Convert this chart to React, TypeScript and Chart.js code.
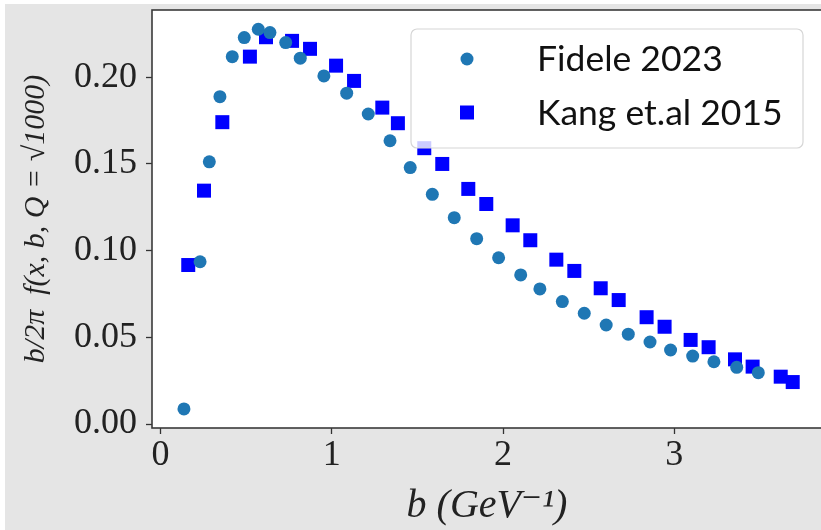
import React, { useEffect, useRef } from "react";
import { Chart, registerables } from "chart.js";

Chart.register(...registerables);

// Fidele 2023 (circles)
const fideleB = [0.137, 0.231, 0.285, 0.347, 0.419, 0.489, 0.571, 0.639, 0.731, 0.816, 0.954, 1.087, 1.213, 1.340, 1.458, 1.587, 1.715, 1.846, 1.974, 2.103, 2.215, 2.346, 2.474, 2.602, 2.731, 2.858, 2.978, 3.107, 3.231, 3.364, 3.490];
const fideleF = [0.0087, 0.0936, 0.1512, 0.1888, 0.2119, 0.2229, 0.2277, 0.2258, 0.2200, 0.2110, 0.2008, 0.1908, 0.1788, 0.1634, 0.1479, 0.1325, 0.1190, 0.1069, 0.0959, 0.0860, 0.0779, 0.0706, 0.0639, 0.0571, 0.0518, 0.0473, 0.0427, 0.0392, 0.0359, 0.0327, 0.0296];

// Kang et.al 2015 (squares)
const kangB = [0.162, 0.254, 0.361, 0.522, 0.616, 0.768, 0.873, 1.025, 1.130, 1.295, 1.386, 1.540, 1.645, 1.797, 1.902, 2.056, 2.159, 2.311, 2.416, 2.570, 2.675, 2.838, 2.943, 3.095, 3.200, 3.354, 3.457, 3.621, 3.691];
const kangF = [0.0917, 0.1346, 0.1741, 0.2119, 0.2231, 0.2210, 0.2164, 0.2067, 0.1979, 0.1825, 0.1735, 0.1591, 0.1500, 0.1356, 0.1269, 0.1146, 0.1060, 0.0948, 0.0883, 0.0783, 0.0715, 0.0616, 0.0561, 0.0485, 0.0443, 0.0373, 0.0331, 0.0273, 0.0242];

const seriesLabels = ["Fidele 2023", "Kang et.al 2015"];
const xTicks = [0, 1, 2, 3];
const yTicks = [0, 0.05, 0.1, 0.15, 0.2];
const xTitle = "b (GeV\u207B\u00B9)";
const yTitle = "b/2\u03C0  f(x, b, Q = \u221A1000)";

const SERIF = "'Liberation Serif', 'DejaVu Serif', serif";
const SANS = "Lato, 'Open Sans', 'DejaVu Sans', sans-serif";

const bgPlugin = {
  id: "bgPlugin",
  beforeDraw(chart: any) {
    const { ctx, width, height, chartArea } = chart;
    ctx.save();
    ctx.fillStyle = "#e5e5e5";
    ctx.fillRect(0, 0, width, height);
    ctx.fillStyle = "#ffffff";
    ctx.fillRect(chartArea.left, chartArea.top, chartArea.right - chartArea.left, chartArea.bottom - chartArea.top);
    ctx.restore();
  },
};

const framePlugin = {
  id: "framePlugin",
  afterDatasetsDraw(chart: any) {
    const { ctx, chartArea } = chart;
    ctx.save();
    ctx.strokeStyle = "#3a3a3a";
    ctx.lineWidth = 1.6;
    ctx.strokeRect(chartArea.left, chartArea.top, chartArea.right - chartArea.left, chartArea.bottom - chartArea.top);
    ctx.restore();

    // legend
    const bx = 406, by = 25, bw = 392, bh = 119;
    ctx.save();
    ctx.beginPath();
    ctx.roundRect(bx, by, bw, bh, 6);
    ctx.fillStyle = "rgba(255,255,255,0.8)";
    ctx.fill();
    ctx.strokeStyle = "#d6d6d6";
    ctx.lineWidth = 1.2;
    ctx.stroke();
    const ds = chart.data.datasets;
    ctx.fillStyle = ds[0].backgroundColor;
    ctx.beginPath();
    ctx.arc(462, 55, 6.5, 0, Math.PI * 2);
    ctx.fill();
    ctx.fillStyle = ds[1].backgroundColor;
    ctx.fillRect(462 - 7, 108.5 - 7, 14, 14);
    ctx.fillStyle = "#111111";
    ctx.font = "35.5px " + SANS;
    ctx.textBaseline = "middle";
    ctx.textAlign = "left";
    ctx.fillText(ds[0].label, 532, 56);
    ctx.fillText(ds[1].label, 532, 109.5);
    ctx.restore();
  },
};

export default function App() {
  const ref = useRef<HTMLCanvasElement | null>(null);

  useEffect(() => {
    if (!ref.current) return;
    const chart = new Chart(ref.current, {
      type: "scatter",
      data: {
        datasets: [
          {
            label: seriesLabels[0],
            data: fideleB.map((x, i) => ({ x, y: fideleF[i] })),
            backgroundColor: "#1f77b4",
            borderColor: "#1f77b4",
            pointStyle: "circle",
            pointRadius: 6.5,
            pointBorderWidth: 0,
          },
          {
            label: seriesLabels[1],
            data: kangB.map((x, i) => ({ x, y: kangF[i] })),
            backgroundColor: "#0000ff",
            borderColor: "#0000ff",
            pointStyle: "rect",
            pointRadius: 9.9,
            pointBorderWidth: 0,
          },
        ],
      },
      plugins: [bgPlugin, framePlugin],
      options: {
        animation: false,
        responsive: false,
        maintainAspectRatio: false,
        layout: { autoPadding: false, padding: { top: 6, right: 3, left: 0, bottom: 0 } },
        plugins: {
          legend: { display: false },
          tooltip: { enabled: false },
        },
        scales: {
          x: {
            type: "linear",
            min: -0.0496,
            max: 3.862,
            afterFit: (s: any) => { s.height = 102; s.paddingLeft = 0; s.paddingRight = 0; },
            afterBuildTicks: (s: any) => { s.ticks = xTicks.map((v) => ({ value: v })); },
            border: { display: false },
            grid: { drawOnChartArea: false, drawTicks: true, tickLength: 6, tickColor: "#333333", tickWidth: 1.3 },
            ticks: {
              color: "#222222",
              font: { family: SERIF, size: 36 },
              padding: 0,
              callback: (v: any) => String(v),
            },
            title: {
              display: true,
              text: xTitle,
              color: "#222222",
              font: { family: SERIF, size: 40, style: "italic" },
              padding: { top: 0, bottom: 0 },
            },
          },
          y: {
            type: "linear",
            min: -0.0023,
            max: 0.2388,
            afterFit: (s: any) => { s.width = 147; s.paddingTop = 0; s.paddingBottom = 0; },
            afterBuildTicks: (s: any) => { s.ticks = yTicks.map((v) => ({ value: v })); },
            border: { display: false },
            grid: { drawOnChartArea: false, drawTicks: true, tickLength: 6, tickColor: "#333333", tickWidth: 1.3 },
            ticks: {
              color: "#222222",
              font: { family: SERIF, size: 36 },
              padding: 9,
              callback: (v: any) => Number(v).toFixed(2),
            },
            title: {
              display: true,
              text: yTitle,
              color: "#222222",
              font: { family: SERIF, size: 30, style: "italic" },
              padding: { top: 13, bottom: 0 },
            },
          },
        },
      },
    });
    return () => chart.destroy();
  }, []);

  return (
    <div style={{ position: "fixed", left: 0, top: 0, width: 821, height: 530, overflow: "hidden", background: "#ffffff" }}>
      <canvas ref={ref} width={820} height={526} style={{ position: "absolute", left: 5, top: 4, width: 820, height: 526 }} />
    </div>
  );
}
